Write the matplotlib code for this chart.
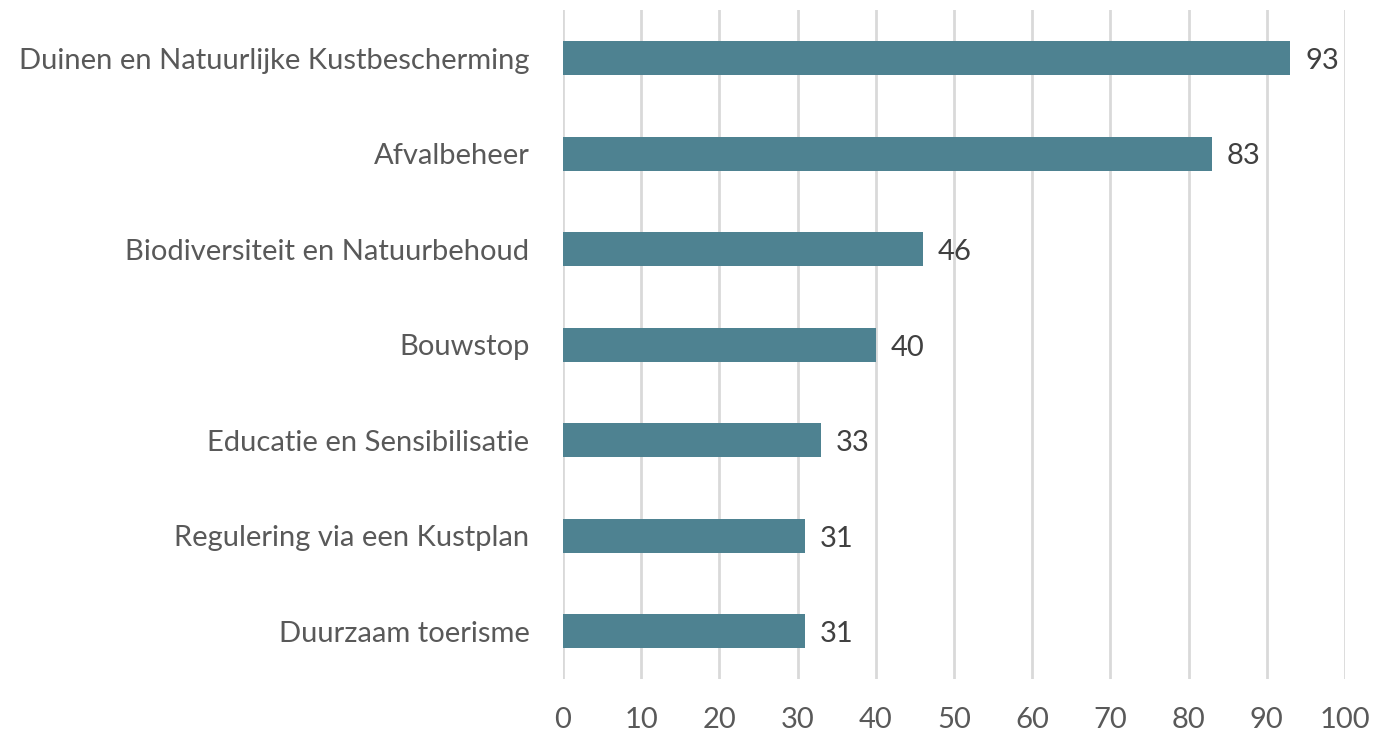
import matplotlib.pyplot as plt

plt.rcParams['font.family'] = ['Lato', 'DejaVu Sans']

categories = [
    'Duinen en Natuurlijke Kustbescherming',
    'Afvalbeheer',
    'Biodiversiteit en Natuurbehoud',
    'Bouwstop',
    'Educatie en Sensibilisatie',
    'Regulering via een Kustplan',
    'Duurzaam toerisme',
]
values = [93, 83, 46, 40, 33, 31, 31]
x_ticks = list(range(0, 101, 10))

bar_color = '#4e8291'
grid_color = '#d9d9d9'

fig = plt.figure(figsize=(13.73, 7.36), dpi=100)
ax = fig.add_axes([0.410, 0.0774, 0.5696, 0.9086])

pos = list(range(len(categories)))
ax.barh(pos, values, height=0.355, color=bar_color, zorder=3)

# data labels right of the bars
for p, v in zip(pos, values):
    ax.text(v + 1.9, p + 0.03, str(v), va='center', ha='left',
            fontsize=21, color='#404040')

ax.set_ylim(len(categories) - 0.5, -0.5)
ax.set_xlim(0, 100)
ax.set_yticks(pos)
ax.set_yticklabels(categories, fontsize=21, color='#595959')
ax.set_xticks(x_ticks)
ax.set_xticklabels([str(t) for t in x_ticks], fontsize=21, color='#595959')

ax.xaxis.grid(True, color=grid_color, linewidth=2, zorder=0)
ax.tick_params(axis='both', length=0)
ax.tick_params(axis='x', pad=20)
ax.tick_params(axis='y', pad=24)
for s in ax.spines.values():
    s.set_visible(False)

fig.savefig('out.png', dpi=100)
